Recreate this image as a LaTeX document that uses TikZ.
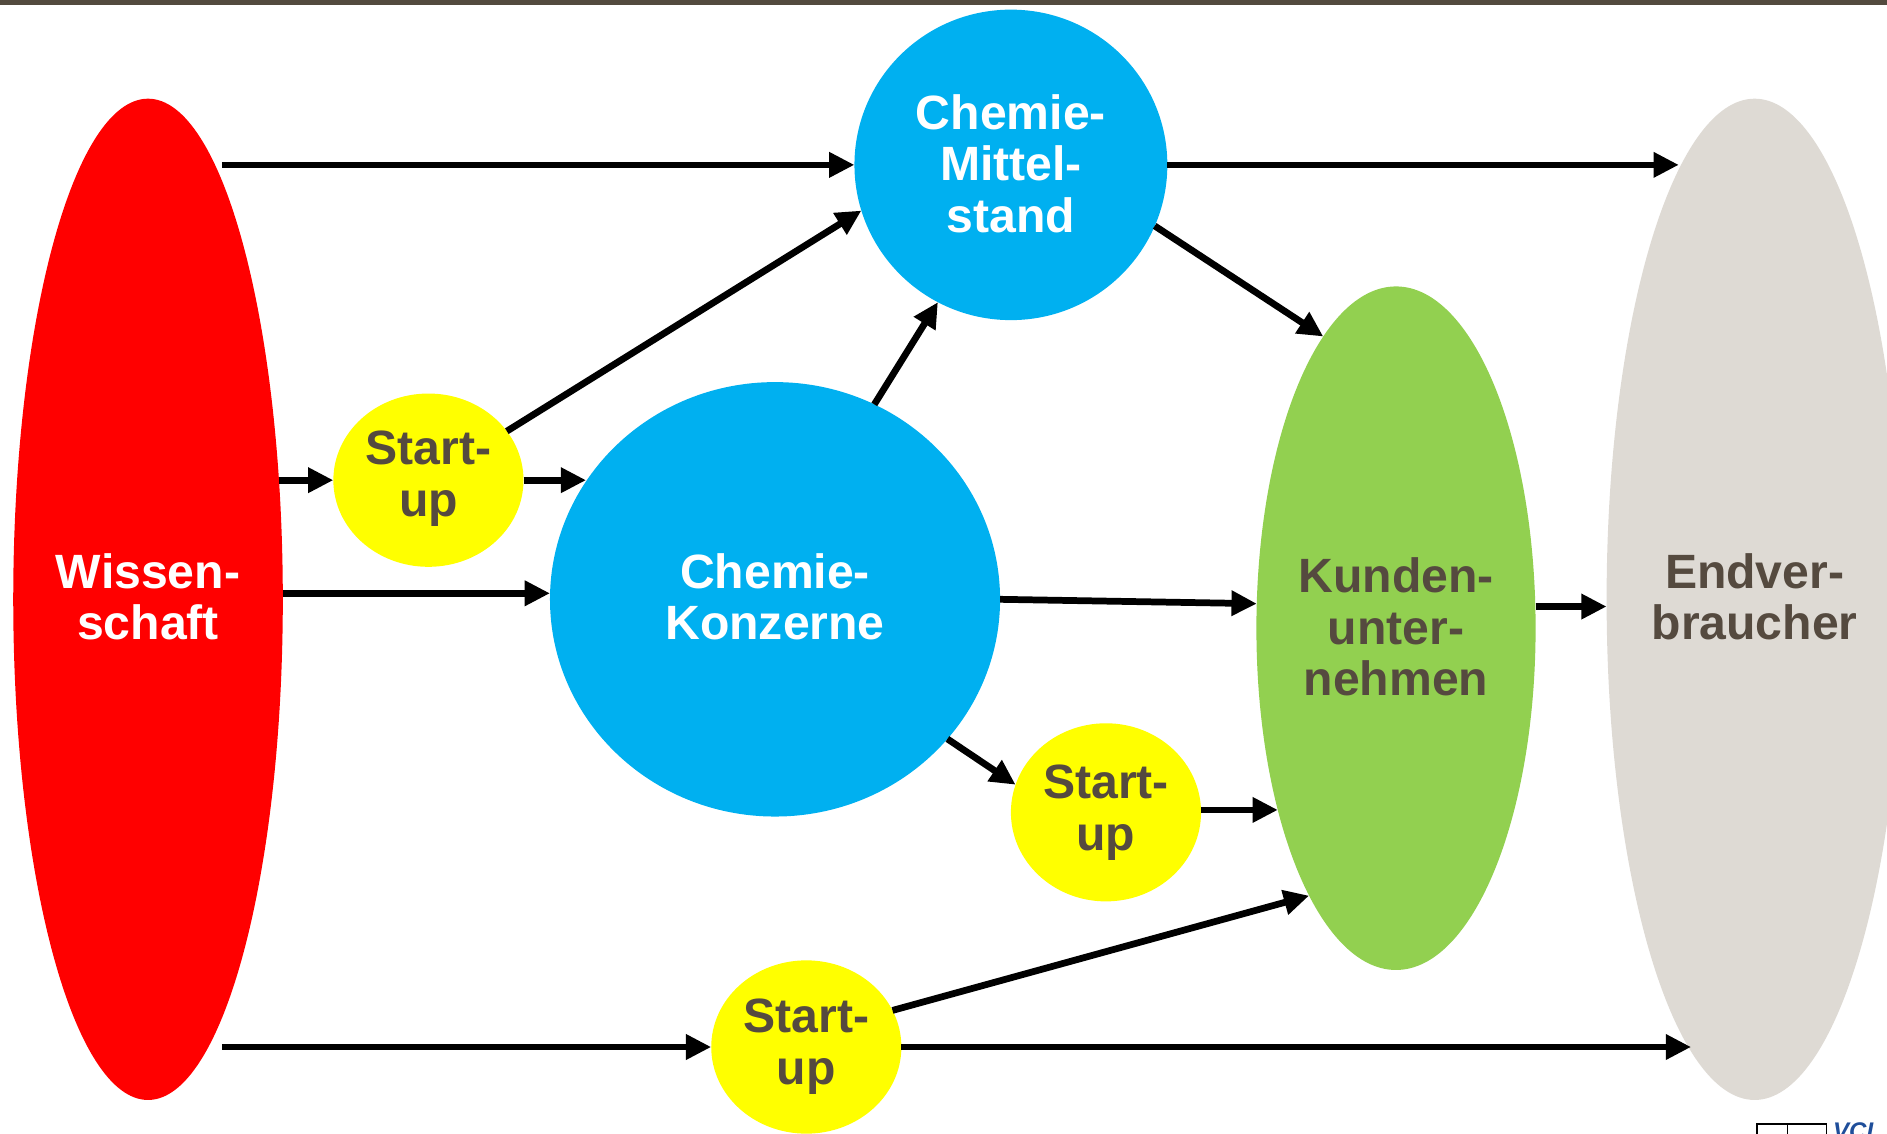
\documentclass[tikz,border=0pt]{standalone}
\usepackage{fontspec}
\setmainfont{Liberation Sans}
\usetikzlibrary{shapes.geometric,arrows.meta}
\definecolor{barbrown}{HTML}{534A3E}
\definecolor{txtbrown}{HTML}{554A3F}
\definecolor{wred}{HTML}{FF0000}
\definecolor{cblue}{HTML}{00B0F0}
\definecolor{syellow}{HTML}{FFFF00}
\definecolor{kgreen}{HTML}{92D050}
\definecolor{egrey}{HTML}{DEDAD4}
\definecolor{vciblue}{HTML}{1F4E9A}
\begin{document}
\begin{tikzpicture}[x=1pt,y=1pt,
  blob/.style={ellipse, draw=none, inner sep=0pt, outer sep=0pt},
  lbl/.style={align=center, inner sep=0pt, font=\fontsize{40}{43}\selectfont\bfseries},
  arr/.style={line width=5.6pt, draw=black, -{Triangle[length=21pt,width=20pt]}}]
\useasboundingbox (0,0) rectangle (1568,-942);
\clip (0,0) rectangle (1568,-942);
\fill[barbrown] (0,0) rectangle (1568,-4.2);
% shapes
\node[blob, fill=wred, minimum width=224pt, minimum height=832pt] (W) at (123,-498) {};
\node[blob, fill=egrey, minimum width=246pt, minimum height=832pt] (E) at (1458,-498) {};
\node[blob, fill=kgreen, minimum width=232pt, minimum height=568pt] (KU) at (1160,-522) {};
\node[blob, fill=cblue, minimum width=260pt, minimum height=258pt] (M) at (840,-137) {};
\node[blob, fill=cblue, minimum width=374pt, minimum height=361pt] (K) at (644,-498) {};
\node[blob, fill=syellow, minimum width=158pt, minimum height=144pt] (S1) at (356,-399) {};
\node[blob, fill=syellow, minimum width=158pt, minimum height=148pt] (S2) at (919,-675) {};
\node[blob, fill=syellow, minimum width=158pt, minimum height=144pt] (S3) at (670,-870) {};
% labels
\node[lbl, text=white] (tW) at ([yshift=2pt]W) {Wissen-\\schaft};
\node[lbl, text=txtbrown] (tE) at ([yshift=2pt]E) {Endver-\\braucher};
\node[lbl, text=txtbrown] (tKU) at ([yshift=1pt]KU) {Kunden-\\unter-\\nehmen};
\node[lbl, text=white] (tM) at ([yshift=1pt]M) {Chemie-\\Mittel-\\stand};
\node[lbl, text=white] (tK) at ([yshift=2pt]K) {Chemie-\\Konzerne};
\node[lbl, text=txtbrown] (tS1) at ([yshift=1pt]S1) {Start-\\up};
\node[lbl, text=txtbrown] (tS2) at (S2) {Start-\\up};
\node[lbl, text=txtbrown] (tS3) at (S3) {Start-\\up};
% connectors
\draw[arr] (W.80 |- M.west) -- (M.west);
\draw[arr] (M.east) -- (M.east -| E.100);
\draw[arr] (S1.32) -- (M.197);
\draw[arr] (W.42 |- S1.west) -- (S1.west);
\draw[arr] (S1.east) -- (S1.east -| K.148);
\draw[arr] ([yshift=5pt]W.east) -- ([yshift=5pt]K.west);
\draw[arr] (K.63) -- (M.242);
\draw[arr] (M.337) -- (KU.104);
\draw[arr] (K.east) -- (KU.170);
\draw[arr] ([yshift=-6pt]E.west -| KU.east) -- ([yshift=-6pt]E.west);
\draw[arr] (K.321) -- (S2.163);
\draw[arr] ([yshift=2pt]S2.east) -- ([yshift=2pt]S2.east -| KU.237);
\draw[arr] (S3.23) -- (KU.252);
\draw[arr] (W.-80 |- S3.west) -- (S3.west);
\draw[arr] (S3.east) -- (S3.east -| E.262);
% logo fragment
\draw[line width=1pt] (1460,-950) -- (1460,-934) -- (1518,-934) -- (1518,-950);
\draw[line width=1pt] (1485,-934) -- (1485,-950);
\node[anchor=north west, inner sep=0pt, text=vciblue, font=\fontsize{20}{20}\selectfont\bfseries\itshape] (vci) at (1523,-933) {VCI};
\end{tikzpicture}
\end{document}
